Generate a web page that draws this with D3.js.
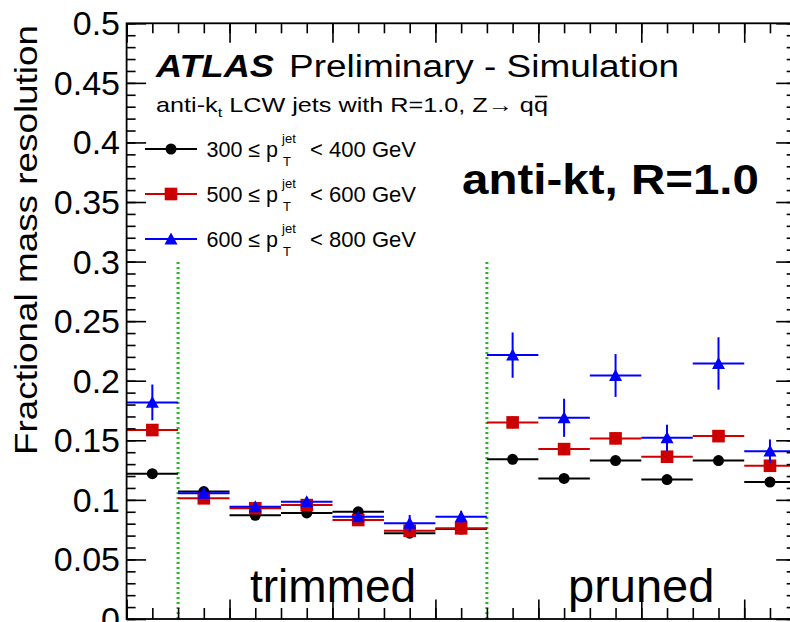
<!DOCTYPE html>
<html><head><meta charset="utf-8">
<script src="https://cdn.jsdelivr.net/npm/d3@7/dist/d3.min.js"></script>
<style>
html,body{margin:0;padding:0;background:#fff;}
svg{display:block;}
text{font-family:"Liberation Sans", Arial, Helvetica, sans-serif;}
</style></head>
<body>
<svg id="chart" width="790" height="622"></svg>
<script>
// ---- data ----
const categories = ["ungroomed","trimmed 1","trimmed 2","trimmed 3","trimmed 4","trimmed 5","trimmed 6",
                    "pruned 1","pruned 2","pruned 3","pruned 4","pruned 5","pruned 6"];
const pt300 = [0.122, 0.107, 0.087, 0.089, 0.090, 0.072, 0.0755, 0.134, 0.118, 0.133, 0.117, 0.133, 0.115];
const pt300Err = [0.004, 0.003, 0.003, 0.003, 0.003, 0.003, 0.003, 0.004, 0.004, 0.004, 0.004, 0.004, 0.004];
const pt500 = [0.1586, 0.1013, 0.0929, 0.0956, 0.0831, 0.0741, 0.0761, 0.165, 0.1426, 0.1516, 0.1362, 0.1535, 0.1286];
const pt500Err = [0.005, 0.003, 0.003, 0.003, 0.003, 0.003, 0.003, 0.005, 0.005, 0.005, 0.005, 0.005, 0.005];
const pt600 = [0.1818, 0.1055, 0.0942, 0.0984, 0.0858, 0.0803, 0.0858, 0.2215, 0.1689, 0.2044, 0.1521, 0.2145, 0.1409];
const pt600Err = [0.015, 0.004, 0.004, 0.004, 0.004, 0.007, 0.005, 0.019, 0.016, 0.018, 0.011, 0.022, 0.0098];
const yTicks = [0, 0.05, 0.1, 0.15, 0.2, 0.25, 0.3, 0.35, 0.4, 0.45, 0.5];
const yTickLabels = ["0","0.05","0.1","0.15","0.2","0.25","0.3","0.35","0.4","0.45","0.5"];
const groupLabels = ["trimmed", "pruned"];
const separators = [1, 7];
const seriesLabels = [["300", "400"], ["500", "600"], ["600", "800"]];

// ---- layout ----
const svg = d3.select("#chart");
const X0 = 126.6, X1 = 795.7, Y0 = 619, Y1 = 23.3;
const x = d3.scaleLinear().domain([0, categories.length]).range([X0, X1]);
const y = d3.scaleLinear().domain([0, 0.5]).range([Y0, Y1]);

const series = [
  {vals: pt300, errs: pt300Err, color: "#000000", shape: "circle"},
  {vals: pt500, errs: pt500Err, color: "#cc0000", shape: "square"},
  {vals: pt600, errs: pt600Err, color: "#0000ff", shape: "triangle"}
];

function drawMarker(g, shape, cx, cy, color) {
  if (shape === "circle") {
    g.append("circle").attr("cx", cx).attr("cy", cy).attr("r", 5.5).attr("fill", color);
  } else if (shape === "square") {
    g.append("rect").attr("x", cx - 6.3).attr("y", cy - 6.3).attr("width", 12.6).attr("height", 12.6).attr("fill", color);
  } else {
    const s = 13;
    g.append("path").attr("d", `M${cx - s/2},${cy + s*0.42}L${cx + s/2},${cy + s*0.42}L${cx},${cy - s*0.5}Z`).attr("fill", color);
  }
}

// separators (green dotted)
svg.append("g").selectAll("line").data(separators).join("line")
  .attr("x1", d => x(d)).attr("x2", d => x(d))
  .attr("y1", y(0)).attr("y2", y(0.3))
  .attr("stroke", "#22bb22").attr("stroke-width", 3).attr("stroke-dasharray", "2,3");

// data points
series.forEach(s => {
  const g = svg.append("g");
  s.vals.forEach((v, i) => {
    const cx = x(i + 0.5), cy = y(v);
    g.append("line").attr("x1", x(i)).attr("x2", x(i + 1)).attr("y1", cy).attr("y2", cy)
      .attr("stroke", s.color).attr("stroke-width", 2);
    g.append("line").attr("x1", cx).attr("x2", cx).attr("y1", y(v - s.errs[i])).attr("y2", y(v + s.errs[i]))
      .attr("stroke", s.color).attr("stroke-width", 2);
    drawMarker(g, s.shape, cx, cy, s.color);
  });
});

// axes (ticks inside frame)
function styleAxis(g) {
  g.select(".domain").remove();
  g.selectAll(".tick line").attr("stroke", "#000").attr("stroke-width", 1.6);
  g.selectAll(".tick text").remove();
}
const yMinor = d3.range(0, 51).map(k => k / 100);
const xMinor = d3.range(0, 27).map(k => k / 2);
const xMajor = d3.range(0, 14, 2);

svg.append("g").attr("transform", `translate(${X0},0)`).call(d3.axisRight(y).tickValues(yMinor).tickSize(9).tickFormat("")).call(styleAxis);
svg.append("g").attr("transform", `translate(${X0},0)`).call(d3.axisRight(y).tickValues(yTicks).tickSize(19.5).tickFormat("")).call(styleAxis);
svg.append("g").attr("transform", `translate(${X1},0)`).call(d3.axisLeft(y).tickValues(yMinor).tickSize(9).tickFormat("")).call(styleAxis);
svg.append("g").attr("transform", `translate(${X1},0)`).call(d3.axisLeft(y).tickValues(yTicks).tickSize(19.5).tickFormat("")).call(styleAxis);
svg.append("g").attr("transform", `translate(0,${Y0})`).call(d3.axisTop(x).tickValues(xMinor).tickSize(11).tickFormat("")).call(styleAxis);
svg.append("g").attr("transform", `translate(0,${Y0})`).call(d3.axisTop(x).tickValues(xMajor).tickSize(19.5).tickFormat("")).call(styleAxis);
svg.append("g").attr("transform", `translate(0,${Y1})`).call(d3.axisBottom(x).tickValues(xMinor).tickSize(10).tickFormat("")).call(styleAxis);
svg.append("g").attr("transform", `translate(0,${Y1})`).call(d3.axisBottom(x).tickValues(xMajor).tickSize(19.5).tickFormat("")).call(styleAxis);

// frame
svg.append("rect").attr("x", X0).attr("y", Y1).attr("width", X1 - X0).attr("height", Y0 - Y1)
  .attr("fill", "none").attr("stroke", "#000").attr("stroke-width", 1.8);

// y tick labels
svg.append("g").selectAll("text").data(yTicks).join("text")
  .attr("x", 120).attr("y", d => y(d) + 12)
  .attr("text-anchor", "end").attr("font-size", 34).attr("fill", "#000")
  .text((d, i) => yTickLabels[i]);

// y title
svg.append("text").attr("transform", "translate(37,455) rotate(-90)")
  .attr("font-size", 32).attr("textLength", 430).attr("lengthAdjust", "spacingAndGlyphs")
  .text("Fractional mass resolution");

// ATLAS label
svg.append("text").attr("x", 156).attr("y", 77).attr("font-size", 31).attr("font-weight", "bold")
  .attr("font-style", "italic").attr("textLength", 118).attr("lengthAdjust", "spacingAndGlyphs").text("ATLAS");
svg.append("text").attr("x", 289).attr("y", 77).attr("font-size", 31)
  .attr("textLength", 390).attr("lengthAdjust", "spacingAndGlyphs").text("Preliminary - Simulation");

// subtitle (horizontally stretched to match reference width)
const subG = svg.append("g");
const sub = subG.append("text").attr("x", 0).attr("y", 0).attr("font-size", 20);
sub.append("tspan").text("anti-k");
sub.append("tspan").attr("font-size", 13).attr("dy", 5).text("t");
sub.append("tspan").attr("dy", -5).text(" LCW jets with R=1.0, Z\u2192 q");
sub.append("tspan").text("q");
{
  const len = sub.node().getComputedTextLength();
  const sc = 392 / len;
  subG.attr("transform", `translate(156,112) scale(${sc},1)`);
  const n = sub.node().getNumberOfChars();
  const ext = sub.node().getExtentOfChar(n - 1);
  subG.append("line").attr("x1", ext.x + 1).attr("x2", ext.x + ext.width - 0.5)
    .attr("y1", -15.5).attr("y2", -15.5).attr("stroke", "#000").attr("stroke-width", 1.6);
}

// legend
const legY = [149, 194, 239];
series.forEach((s, i) => {
  const g = svg.append("g");
  const ly = legY[i];
  g.append("line").attr("x1", 145).attr("x2", 197).attr("y1", ly).attr("y2", ly)
    .attr("stroke", s.color).attr("stroke-width", 2);
  drawMarker(g, s.shape, 171, ly, s.color);
  const t1 = g.append("text").attr("x", 206.5).attr("y", ly + 7.5).attr("font-size", 21.5)
    .text(seriesLabels[i][0] + " \u2264 p");
  const w1 = t1.node().getComputedTextLength();
  const xs = 206.5 + w1 + 4;
  g.append("text").attr("x", xs).attr("y", ly - 6).attr("font-size", 13).text("jet");
  g.append("text").attr("x", xs + 1).attr("y", ly + 17).attr("font-size", 13).text("T");
  g.append("text").attr("x", 310).attr("y", ly + 7.5).attr("font-size", 21.5)
    .attr("textLength", 106).attr("lengthAdjust", "spacingAndGlyphs")
    .text("< " + seriesLabels[i][1] + " GeV");
});

// big label
svg.append("text").attr("x", 462).attr("y", 194).attr("font-size", 43).attr("font-weight", "bold")
  .attr("textLength", 297).attr("lengthAdjust", "spacingAndGlyphs").text("anti-kt, R=1.0");

// group labels
svg.append("text").attr("x", 250).attr("y", 602).attr("font-size", 46).text(groupLabels[0]);
svg.append("text").attr("x", 568).attr("y", 602).attr("font-size", 47).text(groupLabels[1]);
</script>
</body></html>
